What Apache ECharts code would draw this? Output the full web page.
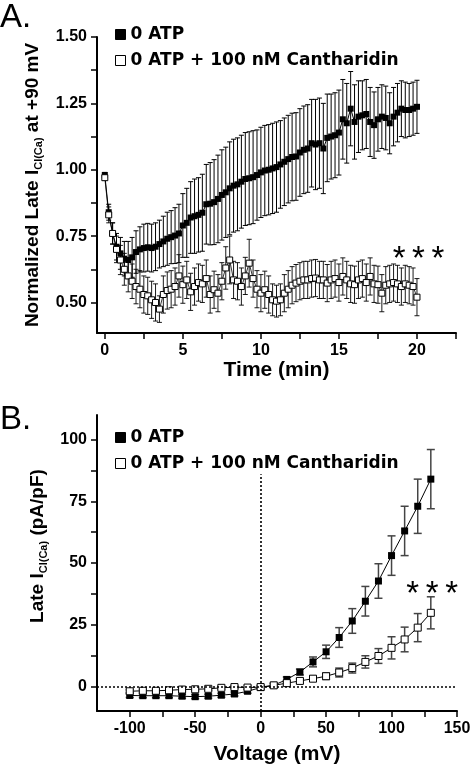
<!DOCTYPE html>
<html><head><meta charset="utf-8">
<script src="https://cdn.jsdelivr.net/npm/echarts@6/dist/echarts.min.js"></script>
<style>html,body{margin:0;padding:0;background:#fff}#c{width:475px;height:766px}</style>
</head><body><div id="c"></div>
<script>
// ---------- Panel A data ----------
const timeA = [0,0.25,0.5,0.75,1,1.25,1.5,1.75,2,2.25,2.5,2.75,3,3.25,3.5,3.75,4,4.25,4.5,4.75,5,5.25,5.5,5.75,6,6.25,6.5,6.75,7,7.25,7.5,7.75,8,8.25,8.5,8.75,9,9.25,9.5,9.75,10,10.25,10.5,10.75,11,11.25,11.5,11.75,12,12.25,12.5,12.75,13,13.25,13.5,13.75,14,14.25,14.5,14.75,15,15.25,15.5,15.75,16,16.25,16.5,16.75,17,17.25,17.5,17.75,18,18.25,18.5,18.75,19,19.25,19.5,19.75,20];
const atpMeanA = [0.98,0.84,0.76,0.71, 0.685,0.665,0.66,0.67, 0.69,0.70,0.705,0.708, 0.705,0.71,0.72,0.73, 0.74,0.746,0.752,0.76, 0.79,0.80,0.82,0.825, 0.83,0.838,0.87,0.872, 0.878,0.89,0.905,0.915, 0.93,0.94,0.945,0.955, 0.965,0.968,0.972,0.98, 0.99,0.997,1.0,1.005, 1.01,1.02,1.03,1.04, 1.048,1.05,1.065,1.075, 1.08,1.10,1.095,1.10, 1.08,1.12,1.125,1.13, 1.14,1.19,1.175,1.23, 1.18,1.20,1.205,1.21, 1.18,1.168,1.19,1.20, 1.195,1.175,1.20,1.215, 1.23,1.225,1.225,1.23, 1.237];
const atpSemA = [0.01,0.03,0.04,0.05, 0.06,0.065,0.07,0.075, 0.08,0.085,0.09,0.09, 0.09,0.09,0.09,0.095, 0.10,0.10,0.105,0.11, 0.12,0.13,0.135,0.14, 0.14,0.145,0.15,0.155, 0.16,0.165,0.17,0.17, 0.175,0.175,0.175,0.175, 0.175,0.175,0.175,0.17, 0.17,0.17,0.17,0.17, 0.17,0.165,0.165,0.165, 0.165,0.165,0.165,0.165, 0.165,0.165,0.17,0.17, 0.17,0.165,0.16,0.16, 0.16,0.15,0.15,0.14, 0.14,0.135,0.13,0.13, 0.13,0.125,0.12,0.12, 0.12,0.115,0.11,0.11, 0.105,0.105,0.10,0.10, 0.10];
const canMeanA = [0.97,0.83,0.76,0.70, 0.66,0.625,0.60,0.58, 0.56,0.55,0.53,0.525, 0.51,0.50,0.475,0.53, 0.545,0.55,0.56,0.60, 0.567,0.585,0.54,0.56, 0.575,0.57,0.59,0.53, 0.548,0.535,0.58,0.63, 0.66,0.585,0.58,0.56, 0.60,0.648,0.59,0.55, 0.535,0.548,0.53,0.51, 0.505,0.51,0.535,0.55, 0.565,0.573,0.58,0.585, 0.585,0.59,0.592,0.585, 0.585,0.573,0.585,0.59, 0.575,0.598,0.585,0.57, 0.567,0.585,0.59,0.575, 0.598,0.57,0.567,0.535, 0.565,0.57,0.575,0.57, 0.56,0.57,0.565,0.56, 0.52];
const canSemA = [0.01,0.03,0.04,0.05, 0.055,0.06,0.06,0.065, 0.065,0.07,0.07,0.07, 0.07,0.07,0.05,0.07, 0.07,0.07,0.07,0.08, 0.07,0.07,0.07,0.07, 0.07,0.07,0.07,0.07, 0.07,0.07,0.07,0.08, 0.09,0.07,0.07,0.07, 0.07,0.09,0.07,0.07, 0.07,0.07,0.07,0.06, 0.06,0.06,0.07,0.07, 0.07,0.07,0.07,0.07, 0.07,0.07,0.07,0.07, 0.07,0.07,0.07,0.07, 0.07,0.07,0.07,0.07, 0.07,0.07,0.07,0.07, 0.07,0.07,0.07,0.07, 0.07,0.07,0.07,0.07, 0.07,0.07,0.07,0.07, 0.07];
const xTicksA = [0,2.5,5,7.5,10,12.5,15,17.5,20,22.5];
const xLabelsA = [0,5,10,15,20];
const yTicksA = [0.5,0.625,0.75,0.875,1,1.125,1.25,1.375,1.5];
const yLabelsA = [0.5,0.75,1,1.25,1.5];

// ---------- Panel B data ----------
const voltB = [-100,-90,-80,-70,-60,-50,-40,-30,-20,-10,0,10,20,30,40,50,60,70,80,90,100,110,120,130];
const atpMeanB = [-3.7,-3.8,-3.8,-3.8,-4.0,-4.2,-4.0,-3.6,-3.1,-2.0,-0.5,0.4,2.8,5.8,9.9,14.0,19.8,26.5,34.5,42.7,53.0,63.0,73.0,84.0];
const atpSemB = [0.8,0.8,0.8,0.8,0.8,0.8,0.8,0.8,0.8,0.8,0.8,0.8,1.0,1.2,2.0,2.7,4.0,5.0,6.0,7.0,8.0,10.0,11.0,12.0];
const canMeanB = [-2.0,-1.8,-1.8,-1.6,-1.3,-1.2,-1.0,-0.6,-0.3,-0.5,-0.3,0.4,1.3,2.2,3.1,4.1,5.6,7.4,9.9,12.3,15.6,19.0,23.8,29.8];
const canSemB = [0.6,0.6,0.6,0.6,0.6,0.6,0.6,0.6,0.6,0.6,0.6,0.6,0.8,0.9,1.0,1.3,1.8,2.0,2.5,3.0,4.5,5.0,5.7,6.5];
const xTicksB = [-100,-75,-50,-25,0,25,50,75,100,125,150];
const xLabelsB = [-100,-50,0,50,100,150];
const yTicksB = [0,12.5,25,37.5,50,62.5,75,87.5,100];
const yLabelsB = [0,25,50,75,100];

const S1 = '0 ATP';
const S2 = '0 ATP + 100 nM Cantharidin';
const FF = '"Liberation Sans", Arial, sans-serif';
const STARS = '*\u2009*\u2009*';

function zip3(x, m, e){ return x.map((v,i)=>[v, m[i], e[i]]); }
function zip2(x, m){ return x.map((v,i)=>[v, m[i]]); }

function errRender(capHalf, color, width){
  return function(params, api){
    const x = api.value(0), y = api.value(1), e = api.value(2);
    const t = api.coord([x, y + e]);
    const b = api.coord([x, y - e]);
    const st = {stroke: color, lineWidth: width};
    return {type:'group', children:[
      {type:'line', shape:{x1:t[0], y1:t[1], x2:b[0], y2:b[1]}, style:st},
      {type:'line', shape:{x1:t[0]-capHalf, y1:t[1], x2:t[0]+capHalf, y2:t[1]}, style:st},
      {type:'line', shape:{x1:b[0]-capHalf, y1:b[1], x2:b[0]+capHalf, y2:b[1]}, style:st}
    ]};
  };
}

function axisCommon(){
  return {
    axisLine:{show:true, onZero:false, lineStyle:{color:'#000', width:2}},
    axisTick:{show:true, length:6, lineStyle:{color:'#000', width:1.5}},
    splitLine:{show:false},
    axisLabel:{color:'#000', fontFamily:FF, fontWeight:'bold', fontSize:16, margin:10}
  };
}

const chart = echarts.init(document.getElementById('c'), null, {renderer:'canvas'});

const xA = axisCommon();
xA.axisTick.customValues = xTicksA; xA.axisLabel.customValues = xLabelsA;
const yA = axisCommon();
yA.axisTick.customValues = yTicksA; yA.axisLabel.customValues = yLabelsA;
yA.axisLabel.formatter = v => Number(v).toFixed(2);
const xB = axisCommon();
xB.axisTick.customValues = xTicksB; xB.axisLabel.customValues = xLabelsB;
const yB = axisCommon();
yB.axisTick.customValues = yTicksB; yB.axisLabel.customValues = yLabelsB;

const legendBase = {
  orient:'vertical', itemWidth:10, itemHeight:10, itemGap:9,
  textStyle:{fontFamily:'"DejaVu Sans", sans-serif', fontWeight:'bold', fontSize:17, color:'#000'},
  selectedMode:false,
  data:[
    {name:S1, icon:'rect', itemStyle:{color:'#000', borderColor:'#000', borderWidth:1}},
    {name:S2, icon:'rect', itemStyle:{color:'#fff', borderColor:'#000', borderWidth:1}}
  ]
};

const option = {
  animation:false,
  backgroundColor:'#fff',
  graphic:[
    {type:'text', left:0, top:1, style:{text:'A.', font:'33px "Liberation Sans", Arial, sans-serif', fill:'#000'}},
    {type:'text', left:0, top:403, style:{text:'B.', font:'33px "Liberation Sans", Arial, sans-serif', fill:'#000'}}
  ],
  legend:[
    Object.assign({}, legendBase, {left:110, top:21}),
    Object.assign({}, legendBase, {left:110, top:424})
  ],
  grid:[
    {left:97, top:37, width:359, height:296},
    {left:97, top:415, width:360, height:297}
  ],
  xAxis:[
    Object.assign(xA, {type:'value', gridIndex:0, min:-0.5, max:22.5,
      name:'Time (min)', nameLocation:'middle', nameGap:19,
      nameTextStyle:{fontFamily:FF, fontWeight:'bold', fontSize:21, color:'#000', verticalAlign:'top'}}),
    Object.assign(xB, {type:'value', gridIndex:1, min:-125, max:150,
      name:'Voltage (mV)', nameLocation:'middle', nameGap:33,
      nameTextStyle:{fontFamily:FF, fontWeight:'bold', fontSize:21, color:'#000', verticalAlign:'top'}})
  ],
  yAxis:[
    Object.assign(yA, {type:'value', gridIndex:0, min:0.385, max:1.5,
      name:'{n|Normalized Late I}{s|Cl(Ca)}{n| at +90 mV}', nameLocation:'middle', nameGap:40,
      nameTextStyle:{color:'#000', rich:{
        n:{fontFamily:FF, fontWeight:'bold', fontSize:19, color:'#000', lineHeight:24},
        s:{fontFamily:FF, fontWeight:'bold', fontSize:11, color:'#000', verticalAlign:'bottom', lineHeight:24, padding:[10,0,0,0]}
      }}}),
    Object.assign(yB, {type:'value', gridIndex:1, min:-10, max:110,
      name:'{n|Late I}{s|Cl(Ca)}{n| (pA/pF)}', nameLocation:'middle', nameGap:40,
      nameTextStyle:{color:'#000', padding:[0,0,0,34], rich:{
        n:{fontFamily:FF, fontWeight:'bold', fontSize:19, color:'#000', lineHeight:24},
        s:{fontFamily:FF, fontWeight:'bold', fontSize:11, color:'#000', verticalAlign:'bottom', lineHeight:24, padding:[10,0,0,0]}
      }}})
  ],
  series:[
    // Panel A
    {type:'custom', name:'errA1', xAxisIndex:0, yAxisIndex:0, renderItem:errRender(2.5,'#000',1),
      encode:{x:0,y:1}, data:zip3(timeA, atpMeanA, atpSemA), z:1, silent:true},
    {type:'custom', name:'errA2', xAxisIndex:0, yAxisIndex:0, renderItem:errRender(2.5,'#000',0.9),
      encode:{x:0,y:1}, data:zip3(timeA, canMeanA, canSemA), z:3, silent:true},
    {type:'line', name:S1, xAxisIndex:0, yAxisIndex:0, data:zip2(timeA, atpMeanA),
      symbol:'rect', symbolSize:6, showAllSymbol:true, z:2,
      itemStyle:{color:'#000'}, lineStyle:{color:'#000', width:1}},
    {type:'line', name:S2, xAxisIndex:0, yAxisIndex:0, data:zip2(timeA, canMeanA),
      symbol:'rect', symbolSize:6, showAllSymbol:true, z:4,
      itemStyle:{color:'#fff', borderColor:'#000', borderWidth:1}, lineStyle:{color:'#000', width:0.8},
      markPoint:{symbol:'circle', symbolSize:1, itemStyle:{color:'rgba(0,0,0,0)'}, silent:true,
        label:{show:true, position:'inside', formatter:STARS, fontFamily:FF, fontSize:33, color:'#000'},
        data:[{coord:[20.1, 0.66]}]}},
    // Panel B
    {type:'custom', name:'errB1', xAxisIndex:1, yAxisIndex:1, renderItem:errRender(4,'#444',1.5),
      encode:{x:0,y:1}, data:zip3(voltB, atpMeanB, atpSemB), z:1, silent:true},
    {type:'custom', name:'errB2', xAxisIndex:1, yAxisIndex:1, renderItem:errRender(4,'#444',1.5),
      encode:{x:0,y:1}, data:zip3(voltB, canMeanB, canSemB), z:3, silent:true},
    {type:'line', name:S1, xAxisIndex:1, yAxisIndex:1, data:zip2(voltB, atpMeanB),
      symbol:'rect', symbolSize:7, showAllSymbol:true, z:2,
      itemStyle:{color:'#000'}, lineStyle:{color:'#000', width:1},
      markLine:{silent:true, symbol:'none', label:{show:false},
        lineStyle:{color:'#000', width:1.6, type:[2,2]},
        data:[
          [{coord:[-125,0]},{coord:[150,0]}],
          [{coord:[0,-10]},{coord:[0,86]}]
        ]}},
    {type:'line', name:S2, xAxisIndex:1, yAxisIndex:1, data:zip2(voltB, canMeanB),
      symbol:'rect', symbolSize:7, showAllSymbol:true, z:4,
      itemStyle:{color:'#fff', borderColor:'#000', borderWidth:1}, lineStyle:{color:'#000', width:1},
      markPoint:{symbol:'circle', symbolSize:1, itemStyle:{color:'rgba(0,0,0,0)'}, silent:true,
        label:{show:true, position:'inside', formatter:STARS, fontFamily:FF, fontSize:33, color:'#000'},
        data:[{coord:[131, 37]}]}}
  ]
};
chart.setOption(option);
</script>
</body></html>
